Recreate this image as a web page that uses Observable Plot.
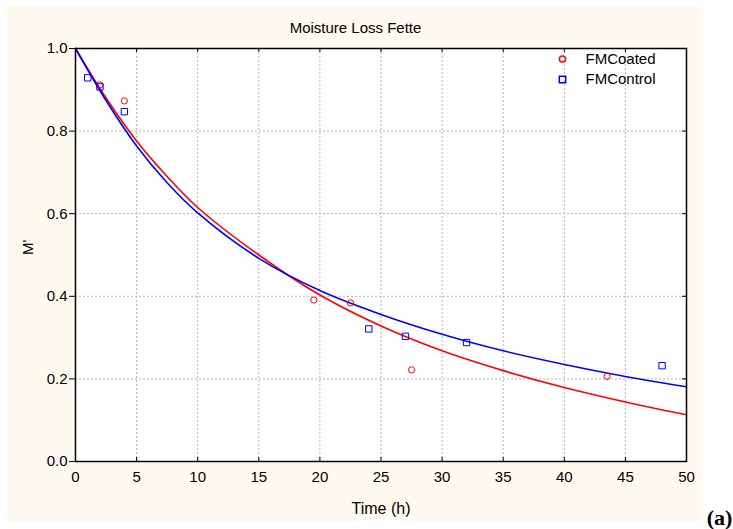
<!DOCTYPE html>
<html><head><meta charset="utf-8">
<script src="https://cdn.jsdelivr.net/npm/d3@7"></script>
<script src="https://cdn.jsdelivr.net/npm/@observablehq/plot@0.6"></script>
<style>
body{margin:0;background:#fff;}
#wrap{position:relative;width:733px;height:529px;overflow:hidden;}
#panel{position:absolute;left:7px;top:7px;width:696px;height:514px;background:#fffaf0;}
#chart{position:absolute;left:0;top:0;}
</style></head><body>
<div id="wrap"><div id="panel"></div><div id="chart"></div></div>
<script>
// Fitted curves
const fitTime    = [0, 2.5, 5, 7.5, 10, 15, 20, 25, 30, 35, 40, 45, 50];
const coatedFit  = [1.0, 0.880, 0.776, 0.690, 0.615, 0.500, 0.403, 0.328, 0.268, 0.220, 0.179, 0.144, 0.113];
const controlFit = [1.0, 0.874, 0.764, 0.675, 0.602, 0.492, 0.414, 0.356, 0.308, 0.268, 0.235, 0.206, 0.181];
// Observed points
const coatedTime  = [2, 4, 19.5, 22.5, 27.5, 43.5];
const coatedM     = [0.912, 0.873, 0.391, 0.384, 0.222, 0.206];
const controlTime = [1, 2, 4, 24, 27, 32, 48];
const controlM    = [0.929, 0.907, 0.847, 0.321, 0.303, 0.288, 0.232];
// Ticks
const xTicks = [0, 5, 10, 15, 20, 25, 30, 35, 40, 45, 50];
const yTicks = [0, 0.2, 0.4, 0.6, 0.8, 1.0];
const seriesNames = ["FMCoated", "FMControl"];
const title = "Moisture Loss Fette";
const xLabel = "Time (h)";
const yLabel = "M'";
const panelTag = "(a)";

const coatedLine = fitTime.map((t, i) => ({t, m: coatedFit[i]}));
const controlLine = fitTime.map((t, i) => ({t, m: controlFit[i]}));
const coatedPts = coatedTime.map((t, i) => ({t, m: coatedM[i]}));
const controlPts = controlTime.map((t, i) => ({t, m: controlM[i]}));

const W = 733, H = 529, mL = 75, mR = 47, mT = 48, mB = 68;
const plotW = W - mL - mR, plotH = H - mT - mB;
const font = "'Liberation Sans', Arial, sans-serif";
const innerX = xTicks.slice(1, -1), innerY = yTicks.slice(1, -1);
const red = "#ff0000", blue = "#0000ff";

const chart = Plot.plot({
  width: W, height: H,
  marginLeft: mL, marginRight: mR, marginTop: mT, marginBottom: mB,
  style: {background: "transparent", fontFamily: font, fontSize: "15px", color: "#000"},
  x: {domain: [0, 50]},
  y: {domain: [0, 1]},
  marks: [
    Plot.frame({fill: "white", stroke: "none"}),
    Plot.gridX({ticks: innerX, stroke: "#b4b4b4", strokeOpacity: 1, strokeDasharray: "2,2"}),
    Plot.gridY({ticks: innerY, stroke: "#b4b4b4", strokeOpacity: 1, strokeDasharray: "2,2"}),
    Plot.axisX({ticks: xTicks, tickSize: 0, tickPadding: 10, tickFormat: d => String(d), label: null, fontSize: 15}),
    Plot.axisY({ticks: yTicks, tickSize: 6, tickPadding: 2, tickFormat: d3.format(".1f"), label: null, fontSize: 15, stroke: "black"}),
    Plot.ruleX(innerX, {x: d => d, insetBottom: plotH - 4, stroke: "black"}),
    Plot.ruleX(innerX, {x: d => d, insetTop: plotH - 4, stroke: "black"}),
    Plot.ruleY(innerY, {y: d => d, insetLeft: plotW - 4, stroke: "black"}),
    Plot.line(coatedLine, {x: "t", y: "m", stroke: red, strokeWidth: 1.6, curve: "catmull-rom"}),
    Plot.line(controlLine, {x: "t", y: "m", stroke: blue, strokeWidth: 1.6, curve: "catmull-rom"}),
    Plot.dot(coatedPts, {x: "t", y: "m", symbol: "circle", r: 3.1, stroke: red, strokeWidth: 1, fill: "none"}),
    Plot.dot(controlPts, {x: "t", y: "m", symbol: "square", r: 3.6, stroke: blue, strokeWidth: 1, fill: "none"}),
    Plot.frame({stroke: "black", strokeWidth: 1.5}),
    // legend
    Plot.dot([seriesNames[0]], {frameAnchor: "top-right", dx: -124, dy: 10.5, symbol: "circle", r: 3.1, stroke: red, fill: "none"}),
    Plot.dot([seriesNames[1]], {frameAnchor: "top-right", dx: -124, dy: 31, symbol: "square", r: 3.6, stroke: blue, fill: "none"}),
    Plot.text([seriesNames[0]], {text: d => d, frameAnchor: "top-right", dx: -101, dy: 10.5, textAnchor: "start", lineAnchor: "middle", fontSize: 15, fill: "black"}),
    Plot.text([seriesNames[1]], {text: d => d, frameAnchor: "top-right", dx: -101, dy: 31, textAnchor: "start", lineAnchor: "middle", fontSize: 15, fill: "black"}),
    // titles
    Plot.text([title], {text: d => d, frameAnchor: "top", dx: -25.5, dy: -20, lineAnchor: "middle", fontSize: 15, fill: "black"}),
    Plot.text([xLabel], {text: d => d, frameAnchor: "bottom", dy: 47, lineAnchor: "middle", fontSize: 16, fill: "black"}),
    Plot.text([yLabel], {text: d => d, frameAnchor: "left", dx: -47, rotate: -90, lineAnchor: "middle", fontSize: 15, fill: "black"}),
    Plot.text([panelTag], {text: d => d, frameAnchor: "bottom-right", dx: 33, dy: 56, textAnchor: "middle", lineAnchor: "middle", fontSize: 22, fontWeight: "bold", fontFamily: "'Liberation Serif', 'Times New Roman', serif", fill: "black"})
  ]
});
document.getElementById("chart").appendChild(chart);
</script>
</body></html>
